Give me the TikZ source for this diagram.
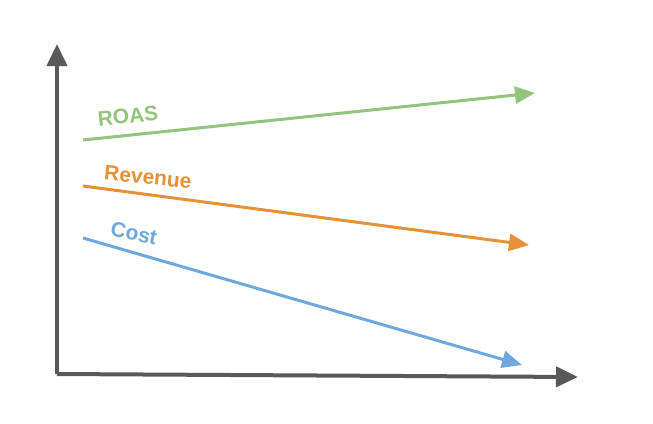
\documentclass[tikz,border=0pt]{standalone}
\usepackage{fontspec}
\setmainfont{Liberation Sans}
\usetikzlibrary{arrows.meta}
\definecolor{roasgreen}{HTML}{93C47D}
\definecolor{revorange}{HTML}{E69138}
\definecolor{costblue}{HTML}{6FA8DC}
\definecolor{axisgrey}{HTML}{595959}

\begin{document}
\begin{tikzpicture}[x=1pt, y=-1pt,
    axis/.style={draw=axisgrey, line width=4pt, -{Triangle[length=22pt, width=20pt]}},
    trend/.style={line width=3pt, -{Triangle[length=20pt, width=17pt]}},
    lbl/.style={font=\bfseries\fontsize{21}{24}\selectfont, inner sep=1pt}]
    \useasboundingbox (0,0) rectangle (653,423);
    % Axes
    \coordinate (o)  at (57,374);
    \coordinate (yt) at (57,44);
    \coordinate (xt) at (578,377);
    \draw [axis] (o) -- (yt);
    \draw [axis] (o) -- (xt);

    % Trend lines
    \coordinate (r0) at (83,140);  \coordinate (r1) at (535,93);
    \coordinate (v0) at (83,186);  \coordinate (v1) at (529,245);
    \coordinate (c0) at (83,238);  \coordinate (c1) at (522,365);
    \draw [trend, roasgreen] (r0) -- (r1);
    \draw [trend, revorange] (v0) -- (v1);
    \draw [trend, costblue]  (c0) -- (c1);

    % Labels
    \node [lbl, text=roasgreen, rotate=6]  (roas) at (128,116) {ROAS};
    \node [lbl, text=revorange, rotate=-6] (rev)  at (148,177) {Revenue};
    \node [lbl, text=costblue, rotate=-12] (cost) at (134,233) {Cost};
\end{tikzpicture}
\end{document}
